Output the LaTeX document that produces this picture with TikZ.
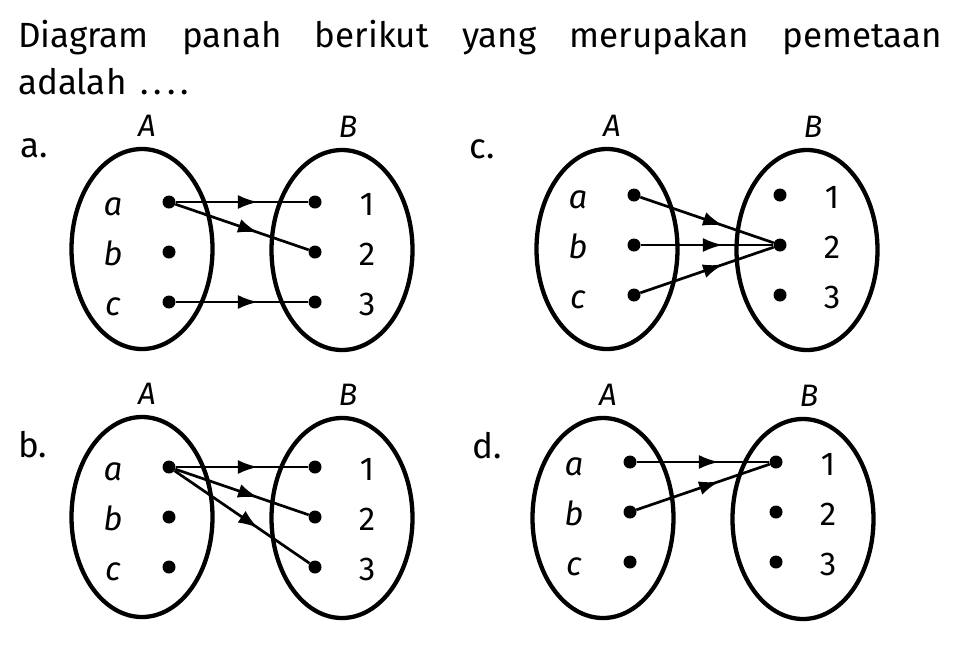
\documentclass[tikz,border=0pt]{standalone}
\usepackage{fontspec}
\setmainfont{Fira Sans}
\usetikzlibrary{positioning,shapes.geometric,arrows.meta,decorations.markings}

% two sets A and B with their elements, nodes named #1-a ... #1-3
\newcommand{\twosets}[2]{%
  \node[setbox] (#1-A) at (0,0) {};
  \node[setbox] (#1-B) at (200,1) {};
  \node[setname, above=10pt of #1-A, xshift=5pt] (#1-nA) {A};
  \node[setname, above=10pt of #1-B, xshift=6pt] (#1-nB) {B};
  \foreach \y/\s/\n in {-50/a/1,0/b/2,50/c/3}{
    \node[dot] (#1-\s) at (27,{\y+#2}) {};
    \node[dot] (#1-\n) at (173,{\y+#2}) {};
    \node[elemname, left=56pt of #1-\s.center, anchor=base, yshift=-13pt] (#1-l\s) {\itshape\s};
    \node[elemname, right=52pt of #1-\n.center, anchor=base, yshift=-13pt] (#1-l\n) {\n};
  }%
}

\begin{document}
\begin{tikzpicture}[x=1pt, y=-1pt]
\tikzset{setbox/.style={draw, ellipse, line width=4.3pt, minimum width=141pt, minimum height=200pt, inner sep=0pt}}
\tikzset{dot/.style={circle, fill, inner sep=0pt, minimum size=13pt}}
\tikzset{setname/.style={inner sep=0pt, font=\fontsize{31}{33}\selectfont\itshape}}
\tikzset{elemname/.style={inner sep=0pt, font=\fontsize{33}{35}\selectfont}}
\tikzset{item/.style={inner sep=0pt, anchor=base west, font=\fontsize{35}{47}\selectfont}}
\tikzset{mapsto/.style={line width=2.7pt, postaction={decorate},
  decoration={markings, mark=at position 0.62 with {\arrow{Latex[length=20pt,width=14pt]}}}}}
\useasboundingbox (0,0) rectangle (958,657);

\node[item] (q1) at (18,47) {\makebox[924pt][s]{Diagram panah berikut yang merupakan pemetaan}};
\node[item] (q2) at (18,94) {adalah\hspace{14pt}.\hspace{5pt}.\hspace{5pt}.\hspace{5pt}.};

\node[item] (ka) at (20,157) {a.};
\node[item] (kb) at (18,457) {b.};
\node[item] (kc) at (469,158) {c.};
\node[item] (kd) at (472,458) {d.};

% a.
\begin{scope}[shift={(142,249)}]
\twosets{pa}{3}
\draw[mapsto] (pa-a) -- (pa-1);
\draw[mapsto] (pa-a) -- (pa-2);
\draw[mapsto] (pa-c) -- (pa-3);
\end{scope}

% b.
\begin{scope}[shift={(142,517)}]
\twosets{pb}{0}
\draw[mapsto] (pb-a) -- (pb-1);
\draw[mapsto] (pb-a) -- (pb-2);
\draw[mapsto] (pb-a) -- (pb-3);
\end{scope}

% c.
\begin{scope}[shift={(607,249)}]
\twosets{pc}{-4}
\draw[mapsto] (pc-a) -- (pc-2);
\draw[mapsto] (pc-b) -- (pc-2);
\draw[mapsto] (pc-c) -- (pc-2);
\end{scope}

% d.
\begin{scope}[shift={(603,518)}]
\twosets{pd}{-6}
\draw[mapsto] (pd-a) -- (pd-1);
\draw[mapsto] (pd-b) -- (pd-1);
\end{scope}
\end{tikzpicture}
\end{document}
